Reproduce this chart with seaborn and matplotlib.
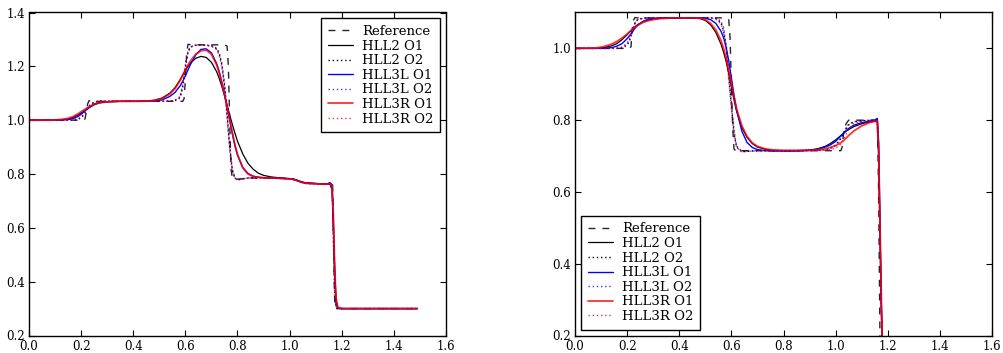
import numpy as np
import pandas as pd
import matplotlib
matplotlib.use("Agg")
import matplotlib.pyplot as plt
import seaborn as sns

# ---------------- data: left panel ----------------
XL = [0.00, 0.08, 0.12, 0.15, 0.17, 0.19, 0.21, 0.23, 0.25, 0.27, 0.30, 0.35, 0.40, 0.45, 0.48,
      0.51, 0.54, 0.56, 0.58, 0.59, 0.60, 0.61, 0.62, 0.64, 0.66, 0.68, 0.70, 0.72, 0.73, 0.74,
      0.75, 0.76, 0.77, 0.78, 0.79, 0.80, 0.82, 0.84, 0.86, 0.88, 0.90, 0.93, 0.96, 1.00, 1.02,
      1.04, 1.06, 1.10, 1.14, 1.155, 1.163, 1.168, 1.173, 1.178, 1.185, 1.20, 1.30, 1.40, 1.49]

L_HLL2_O1 = [1.000, 1.000, 1.001, 1.004, 1.010, 1.020, 1.033, 1.046, 1.057, 1.064, 1.068, 1.070, 1.070, 1.071, 1.074,
             1.082, 1.100, 1.120, 1.150, 1.168, 1.185, 1.200, 1.213, 1.230, 1.237, 1.233, 1.215, 1.180, 1.155, 1.125,
             1.092, 1.057, 1.020, 0.985, 0.952, 0.922, 0.875, 0.840, 0.818, 0.803, 0.795, 0.789, 0.786, 0.783, 0.780,
             0.773, 0.768, 0.765, 0.762, 0.762, 0.740, 0.600, 0.450, 0.330, 0.302, 0.300, 0.300, 0.300, 0.300]
L_HLL2_O2 = [1.000, 1.000, 1.000, 1.000, 1.001, 1.004, 1.020, 1.052, 1.068, 1.071, 1.070, 1.070, 1.070, 1.070, 1.070,
             1.070, 1.071, 1.073, 1.085, 1.130, 1.200, 1.255, 1.272, 1.278, 1.279, 1.278, 1.276, 1.265, 1.245, 1.205,
             1.130, 1.020, 0.900, 0.815, 0.785, 0.778, 0.782, 0.785, 0.786, 0.786, 0.786, 0.785, 0.784, 0.782, 0.779,
             0.770, 0.765, 0.764, 0.762, 0.763, 0.750, 0.550, 0.360, 0.305, 0.300, 0.300, 0.300, 0.300, 0.300]
L_HLL3L_O1 = [1.000, 1.000, 1.000, 1.002, 1.006, 1.015, 1.030, 1.047, 1.060, 1.066, 1.069, 1.070, 1.070, 1.070, 1.071,
              1.075, 1.088, 1.103, 1.128, 1.145, 1.165, 1.187, 1.208, 1.243, 1.263, 1.265, 1.250, 1.210, 1.180, 1.140,
              1.098, 1.050, 1.000, 0.950, 0.905, 0.870, 0.825, 0.802, 0.792, 0.788, 0.786, 0.785, 0.784, 0.782, 0.779,
              0.771, 0.766, 0.764, 0.762, 0.768, 0.760, 0.620, 0.420, 0.320, 0.302, 0.300, 0.300, 0.300, 0.300]
L_HLL3L_O2 = [1.000, 1.000, 1.000, 1.000, 1.001, 1.003, 1.018, 1.050, 1.067, 1.071, 1.070, 1.070, 1.070, 1.070, 1.070,
              1.070, 1.071, 1.072, 1.082, 1.120, 1.190, 1.250, 1.272, 1.279, 1.280, 1.279, 1.277, 1.268, 1.250, 1.212,
              1.140, 1.030, 0.905, 0.818, 0.786, 0.778, 0.782, 0.785, 0.786, 0.786, 0.786, 0.785, 0.784, 0.782, 0.779,
              0.771, 0.765, 0.764, 0.762, 0.765, 0.755, 0.580, 0.380, 0.308, 0.300, 0.300, 0.300, 0.300, 0.300]
L_HLL3R_O1 = [1.000, 1.000, 1.002, 1.007, 1.014, 1.025, 1.038, 1.050, 1.059, 1.065, 1.068, 1.070, 1.070, 1.071, 1.073,
              1.080, 1.097, 1.117, 1.148, 1.167, 1.188, 1.205, 1.221, 1.245, 1.258, 1.260, 1.245, 1.205, 1.175, 1.137,
              1.095, 1.050, 1.003, 0.955, 0.910, 0.873, 0.823, 0.800, 0.791, 0.788, 0.786, 0.785, 0.784, 0.782, 0.779,
              0.772, 0.766, 0.764, 0.762, 0.764, 0.755, 0.640, 0.450, 0.340, 0.305, 0.300, 0.300, 0.300, 0.300]
L_HLL3R_O2 = [1.000, 1.000, 1.000, 1.000, 1.002, 1.006, 1.022, 1.053, 1.067, 1.070, 1.070, 1.070, 1.070, 1.070, 1.070,
              1.070, 1.071, 1.074, 1.088, 1.135, 1.205, 1.258, 1.273, 1.278, 1.279, 1.278, 1.275, 1.262, 1.240, 1.198,
              1.120, 1.010, 0.890, 0.810, 0.784, 0.778, 0.782, 0.785, 0.786, 0.786, 0.786, 0.785, 0.784, 0.782, 0.779,
              0.770, 0.765, 0.764, 0.762, 0.763, 0.752, 0.600, 0.400, 0.310, 0.300, 0.300, 0.300, 0.300, 0.300]

XL_REF = [0.0, 0.21, 0.215, 0.22, 0.225, 0.23, 0.24, 0.59, 0.595, 0.60, 0.605, 0.61, 0.62, 0.75, 0.76,
          0.765, 0.77, 0.775, 0.78, 0.79, 0.85, 0.95, 1.00, 1.03, 1.05, 1.10, 1.15, 1.165, 1.168, 1.172,
          1.175, 1.49]
YL_REF = [1.0, 1.0, 1.005, 1.03, 1.06, 1.072, 1.07, 1.07, 1.08, 1.15, 1.25, 1.282, 1.28, 1.28, 1.275,
          1.2, 1.0, 0.82, 0.785, 0.78, 0.785, 0.785, 0.783, 0.776, 0.766, 0.764, 0.762, 0.762, 0.6, 0.35,
          0.3, 0.3]

# ---------------- data: right panel ----------------
XR = [0.00, 0.08, 0.11, 0.14, 0.16, 0.18, 0.20, 0.21, 0.22, 0.23, 0.24, 0.26, 0.28, 0.30, 0.33,
      0.38, 0.45, 0.48, 0.50, 0.52, 0.54, 0.56, 0.57, 0.58, 0.59, 0.60, 0.61, 0.62, 0.64, 0.66,
      0.68, 0.70, 0.73, 0.76, 0.80, 0.85, 0.90, 0.93, 0.96, 0.98, 1.00, 1.02, 1.03, 1.04, 1.05,
      1.07, 1.10, 1.13, 1.15, 1.16, 1.165, 1.17, 1.175, 1.18, 1.19, 1.25, 1.49]

R_HLL2_O1 = [1.000, 1.000, 1.002, 1.007, 1.013, 1.024, 1.038, 1.046, 1.053, 1.060, 1.066, 1.074, 1.079, 1.082, 1.084,
             1.085, 1.085, 1.083, 1.078, 1.066, 1.045, 1.012, 0.990, 0.963, 0.930, 0.893, 0.857, 0.825, 0.780, 0.752,
             0.735, 0.725, 0.719, 0.716, 0.715, 0.715, 0.717, 0.720, 0.727, 0.735, 0.745, 0.757, 0.763, 0.769, 0.774,
             0.782, 0.790, 0.795, 0.797, 0.795, 0.700, 0.500, 0.300, 0.150, 0.050, 0.000, 0.000]
R_HLL2_O2 = [1.000, 1.000, 1.000, 1.000, 1.000, 1.002, 1.010, 1.025, 1.048, 1.070, 1.080, 1.084, 1.085, 1.085, 1.085,
             1.085, 1.085, 1.085, 1.085, 1.085, 1.083, 1.072, 1.050, 1.000, 0.920, 0.840, 0.765, 0.725, 0.712, 0.713,
             0.714, 0.715, 0.715, 0.715, 0.715, 0.715, 0.715, 0.716, 0.718, 0.722, 0.730, 0.748, 0.762, 0.776, 0.787,
             0.795, 0.798, 0.799, 0.800, 0.800, 0.720, 0.500, 0.280, 0.120, 0.030, 0.000, 0.000]
R_HLL3L_O1 = [1.000, 1.000, 1.000, 1.002, 1.006, 1.013, 1.027, 1.036, 1.046, 1.056, 1.064, 1.075, 1.081, 1.084, 1.085,
              1.085, 1.085, 1.085, 1.084, 1.080, 1.070, 1.048, 1.030, 1.003, 0.965, 0.918, 0.870, 0.828, 0.770, 0.738,
              0.724, 0.718, 0.715, 0.714, 0.714, 0.714, 0.716, 0.719, 0.725, 0.731, 0.741, 0.756, 0.764, 0.771, 0.777,
              0.786, 0.793, 0.797, 0.800, 0.805, 0.740, 0.520, 0.300, 0.130, 0.040, 0.000, 0.000]
R_HLL3L_O2 = [1.000, 1.000, 1.000, 1.000, 1.000, 1.001, 1.008, 1.022, 1.046, 1.069, 1.080, 1.084, 1.085, 1.085, 1.085,
              1.085, 1.085, 1.085, 1.085, 1.085, 1.084, 1.076, 1.058, 1.012, 0.935, 0.850, 0.772, 0.728, 0.713, 0.713,
              0.714, 0.715, 0.715, 0.715, 0.715, 0.715, 0.715, 0.716, 0.718, 0.722, 0.731, 0.750, 0.765, 0.779, 0.789,
              0.796, 0.799, 0.800, 0.801, 0.802, 0.730, 0.500, 0.270, 0.110, 0.030, 0.000, 0.000]
R_HLL3R_O1 = [1.000, 1.001, 1.005, 1.012, 1.019, 1.029, 1.040, 1.047, 1.053, 1.059, 1.064, 1.072, 1.077, 1.080, 1.083,
              1.085, 1.085, 1.084, 1.080, 1.070, 1.052, 1.022, 1.000, 0.973, 0.940, 0.902, 0.865, 0.832, 0.785, 0.755,
              0.737, 0.727, 0.720, 0.717, 0.716, 0.716, 0.716, 0.717, 0.720, 0.724, 0.729, 0.737, 0.743, 0.750, 0.757,
              0.770, 0.784, 0.793, 0.797, 0.796, 0.720, 0.520, 0.320, 0.160, 0.050, 0.000, 0.000]
R_HLL3R_O2 = [1.000, 1.000, 1.000, 1.000, 1.001, 1.004, 1.014, 1.030, 1.052, 1.071, 1.080, 1.084, 1.085, 1.085, 1.085,
              1.085, 1.085, 1.085, 1.085, 1.085, 1.082, 1.068, 1.044, 0.992, 0.912, 0.832, 0.760, 0.724, 0.712, 0.713,
              0.714, 0.715, 0.715, 0.715, 0.715, 0.715, 0.715, 0.715, 0.716, 0.718, 0.722, 0.733, 0.745, 0.760, 0.775,
              0.790, 0.797, 0.799, 0.800, 0.800, 0.720, 0.500, 0.280, 0.120, 0.030, 0.000, 0.000]

XR_REF = [0.0, 0.21, 0.215, 0.218, 0.222, 0.23, 0.24, 0.58, 0.59, 0.595, 0.60, 0.605, 0.61, 0.62, 0.63,
          1.02, 1.025, 1.03, 1.04, 1.05, 1.06, 1.16, 1.165, 1.17, 1.175, 1.49]
YR_REF = [1.0, 1.0, 1.005, 1.04, 1.075, 1.086, 1.085, 1.085, 1.08, 1.03, 0.90, 0.78, 0.72, 0.712, 0.715,
          0.715, 0.725, 0.76, 0.79, 0.80, 0.80, 0.80, 0.60, 0.20, 0.0, 0.0]

LABELS = ["Reference", "HLL2 O1", "HLL2 O2", "HLL3L O1", "HLL3L O2", "HLL3R O1", "HLL3R O2"]

# ---------------- style ----------------
sns.set_style("ticks")
plt.rcParams.update({
    "font.family": ["DejaVu Serif"],
    "font.size": 8.5,
    "xtick.direction": "in",
    "ytick.direction": "in",
    "xtick.top": True,
    "ytick.right": True,
    "xtick.major.size": 4,
    "ytick.major.size": 4,
    "xtick.major.width": 0.8,
    "ytick.major.width": 0.8,
    "xtick.major.pad": 3,
    "ytick.major.pad": 3,
    "xtick.labelsize": 8.5,
    "ytick.labelsize": 8.5,
    "axes.edgecolor": "black",
    "axes.linewidth": 1.0,
    "xtick.color": "black",
    "ytick.color": "black",
    "text.color": "black",
    "axes.grid": False,
})

STYLES = [
    dict(color="black", linestyle=(0, (5, 5)), linewidth=1.0, alpha=0.85),
    dict(color="black", linestyle="-", linewidth=0.9),
    dict(color="black", linestyle=(0, (1, 2)), linewidth=1.0),
    dict(color="blue", linestyle="-", linewidth=1.0),
    dict(color="blue", linestyle=(0, (1, 2)), linewidth=1.0, alpha=0.8),
    dict(color="red", linestyle="-", linewidth=1.3, alpha=0.8),
    dict(color="red", linestyle=(0, (1, 2)), linewidth=1.0, alpha=0.8),
]

fig = plt.figure(figsize=(10.04, 3.53), dpi=100)
ax1 = fig.add_axes([29 / 1004, 17.5 / 353, 417 / 1004, 323 / 353])
ax2 = fig.add_axes([575 / 1004, 17.5 / 353, 417 / 1004, 323 / 353])


def draw(ax, xref, yref, xg, series):
    sns.lineplot(x=xref, y=yref, ax=ax, estimator=None, sort=False, label=LABELS[0], **STYLES[0])
    for lab, ys, st in zip(LABELS[1:], series, STYLES[1:]):
        sns.lineplot(x=xg, y=ys, ax=ax, estimator=None, sort=False, label=lab, **st)


draw(ax1, XL_REF, YL_REF, XL, [L_HLL2_O1, L_HLL2_O2, L_HLL3L_O1, L_HLL3L_O2, L_HLL3R_O1, L_HLL3R_O2])
draw(ax2, XR_REF, YR_REF, XR, [R_HLL2_O1, R_HLL2_O2, R_HLL3L_O1, R_HLL3L_O2, R_HLL3R_O1, R_HLL3R_O2])

for ax, ylim, yt in [(ax1, (0.2, 1.4), np.arange(0.2, 1.41, 0.2)),
                     (ax2, (0.2, 1.1), np.arange(0.2, 1.01, 0.2))]:
    ax.set_xlim(0, 1.6)
    ax.set_ylim(*ylim)
    ax.set_xticks(np.arange(0, 1.61, 0.2))
    ax.set_yticks(yt)
    ax.set_xticklabels([f"{v:.1f}" for v in np.arange(0, 1.61, 0.2)])
    ax.set_yticklabels([f"{v:.1f}" for v in yt])
    ax.set_xlabel("")
    ax.set_ylabel("")
    for s in ax.spines.values():
        s.set_visible(True)
        s.set_color("black")

leg_kw = dict(fancybox=False, edgecolor="black", framealpha=1, fontsize=9.5,
              labelspacing=0.12, handlelength=1.9, handletextpad=0.7, borderpad=0.5,
              borderaxespad=0.45)
l1 = ax1.legend(loc="upper right", **leg_kw)
l2 = ax2.legend(loc="lower left", **leg_kw)
for l in (l1, l2):
    l.get_frame().set_linewidth(1.0)

fig.savefig("out.png", dpi=100)
